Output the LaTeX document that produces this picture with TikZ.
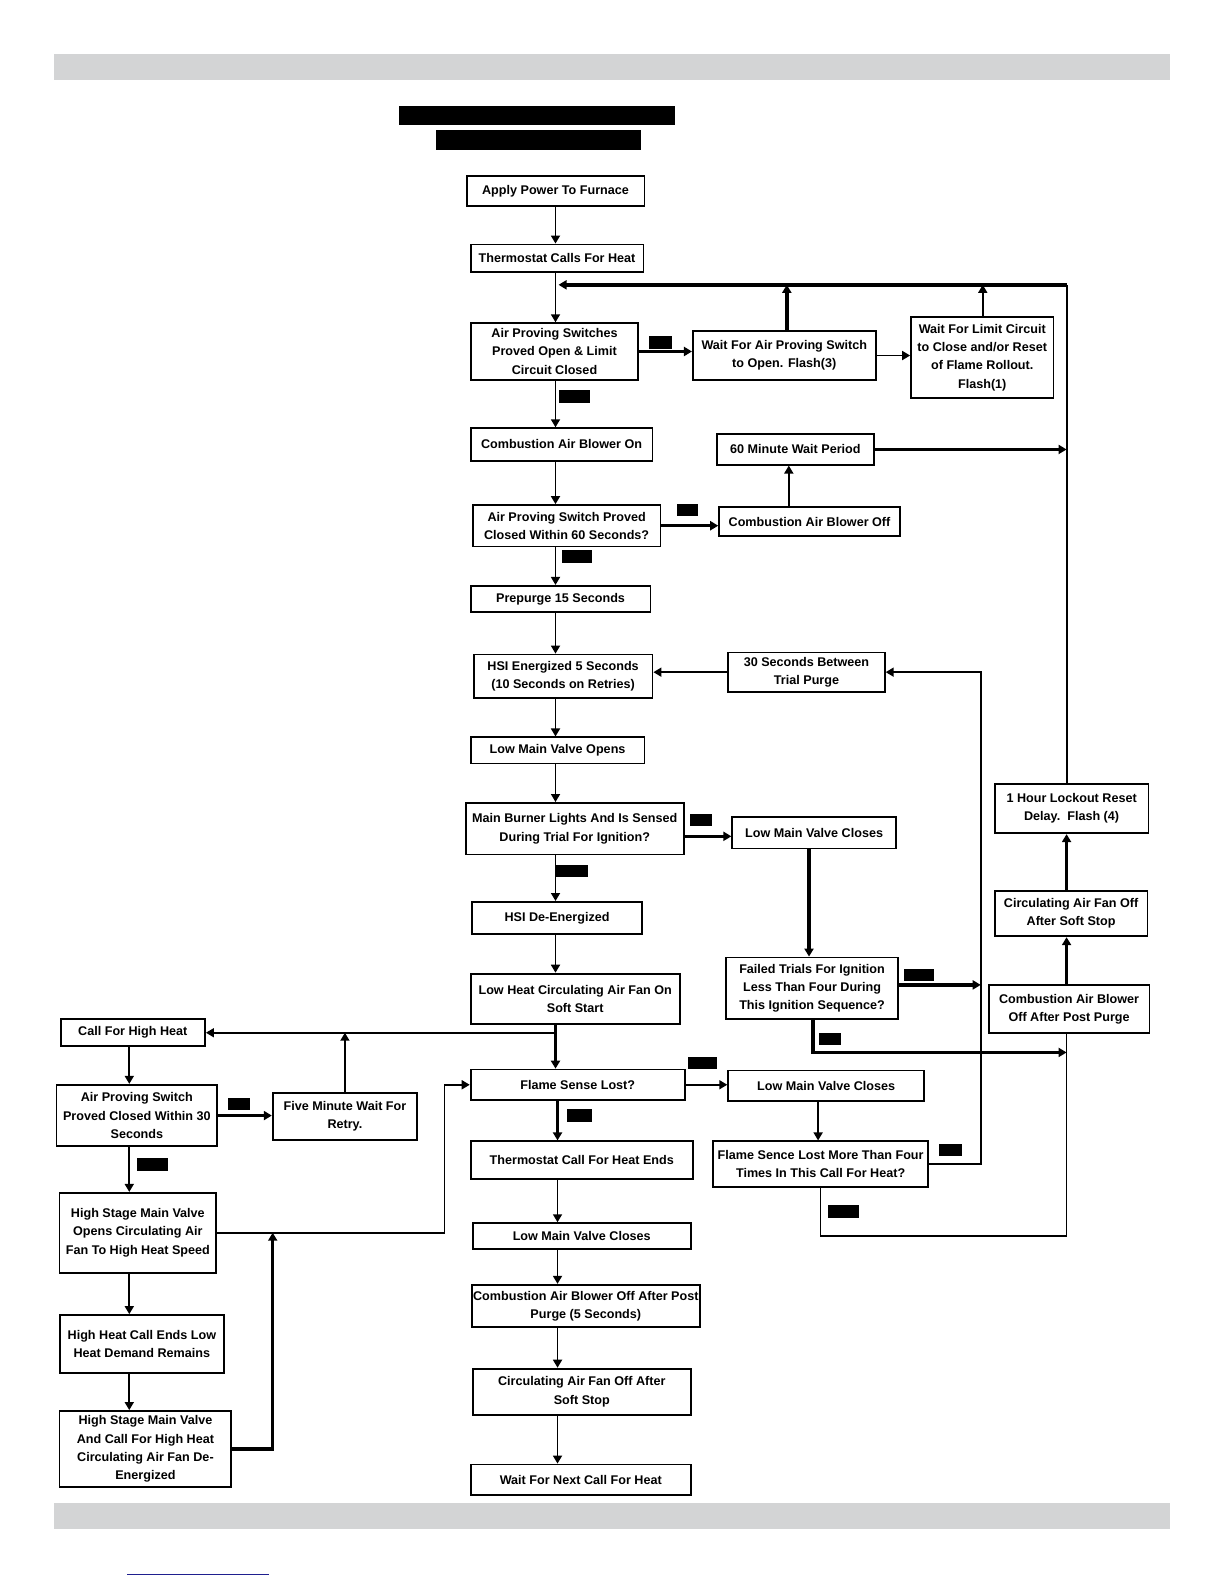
\documentclass[tikz,border=0pt]{standalone}
\usepackage{fontspec}
\setmainfont{Liberation Sans}
\usetikzlibrary{arrows.meta}
\definecolor{bargray}{HTML}{D3D4D5}
\definecolor{navyline}{HTML}{1F1F8F}
\begin{document}
\begin{tikzpicture}[x=0.505pt,y=-0.505pt,
  box/.style={draw, line width=0.9pt, inner xsep=0.5pt, inner ysep=0pt, align=center,
    font=\fontsize{6.3}{9.1}\selectfont\bfseries},
  thn/.style={line width=0.85pt},
  med/.style={line width=1.0pt},
  thk/.style={line width=1.7pt},
  arr/.style={-{Triangle[length=4pt,width=4.5pt]}},
  redact/.style={fill=black}]
\useasboundingbox (0pt,0pt) rectangle (612pt,-792pt);
\fill[white] (0pt,0pt) rectangle (612pt,-792pt);
% page bars
\fill[bargray] (53,53) rectangle (1158,79);
\fill[bargray] (53,1488) rectangle (1158,1514);
\draw[navyline,line width=0.6pt] (126,1559) -- (266,1559);
% title (redacted)
\fill[redact] (395,105) rectangle (668,124);
\fill[redact] (432,129) rectangle (635,149);

% nodes
\node[box,minimum width=88.9pt,minimum height=15.2pt] (b1) at (550,189) {Apply Power To Furnace};
\node[box,minimum width=86.4pt,minimum height=13.6pt] (b2) at (551.5,255.5) {Thermostat Calls For Heat};
\node[box,minimum width=83.8pt,minimum height=28.3pt] (b3) at (549,348) {Air Proving Switches\\Proved Open \& Limit\\Circuit Closed};
\node[box,minimum width=91.4pt,minimum height=24.2pt] (b4) at (776.5,352) {Wait For Air Proving Switch\\to Open. Flash(3)};
\node[box,minimum width=71.2pt,minimum height=40.4pt] (b5) at (972.5,354) {Wait For Limit Circuit\\to Close and/or Reset\\of Flame Rollout.\\Flash(1)};
\node[box,minimum width=90.9pt,minimum height=16.2pt] (b6) at (556,440) {Combustion Air Blower On};
\node[box,minimum width=93.9pt,minimum height=20.7pt] (b7) at (561,520.5) {Air Proving Switch Proved\\Closed Within 60 Seconds?};
\node[box,minimum width=90.4pt,minimum height=14.6pt] (b8) at (801.5,516.5) {Combustion Air Blower Off};
\node[box,minimum width=78.3pt,minimum height=15.2pt] (b9) at (787.5,445) {60 Minute Wait Period};
\node[box,minimum width=89.9pt,minimum height=13.1pt] (b10) at (555,593) {Prepurge 15 Seconds};
\node[box,minimum width=89.4pt,minimum height=21.7pt] (b11) at (557.5,669.5) {HSI Energized 5 Seconds\\(10 Seconds on Retries)};
\node[box,minimum width=78.3pt,minimum height=19.7pt] (b12) at (798.5,665.5) {30 Seconds Between\\Trial Purge};
\node[box,minimum width=86.9pt,minimum height=13.1pt] (b13) at (552,743) {Low Main Valve Opens};
\node[box,minimum width=109.1pt,minimum height=25.8pt] (b14) at (569,820.5) {Main Burner Lights And Is Sensed\\During Trial For Ignition?};
\node[box,minimum width=81.8pt,minimum height=15.7pt] (b15) at (806,824.5) {Low Main Valve Closes};
\node[box,minimum width=85.3pt,minimum height=16.2pt] (b16) at (551.5,909) {HSI De-Energized};
\node[box,minimum width=85.9pt,minimum height=30.8pt] (b17) at (804,978.5) {Failed Trials For Ignition\\Less Than Four During\\This Ignition Sequence?};
\node[box,minimum width=104.5pt,minimum height=25.3pt] (b18) at (569.5,989) {Low Heat Circulating Air Fan On\\Soft Start};
\node[box,minimum width=72.2pt,minimum height=13.6pt] (b19) at (131.5,1022.5) {Call For High Heat};
\node[box,minimum width=107.1pt,minimum height=15.2pt] (b20) at (572,1074) {Flame Sense Lost?};
\node[box,minimum width=80.3pt,minimum height=30.8pt] (b21) at (135.5,1104.5) {Air Proving Switch\\Proved Closed Within 30\\Seconds};
\node[box,minimum width=72.2pt,minimum height=23.7pt] (b22) at (341.5,1105.5) {Five Minute Wait For\\Retry.};
\node[box,minimum width=78.3pt,minimum height=39.9pt] (b23) at (136.5,1220.5) {High Stage Main Valve\\Opens Circulating Air\\Fan To High Heat Speed};
\node[box,minimum width=82.3pt,minimum height=28.8pt] (b24) at (140.5,1330.5) {High Heat Call Ends Low\\Heat Demand Remains};
\node[box,minimum width=85.9pt,minimum height=37.9pt] (b25) at (144,1434.5) {High Stage Main Valve\\And Call For High Heat\\Circulating Air Fan De-\\Energized};
\node[box,minimum width=98.0pt,minimum height=15.2pt] (b26) at (818,1075) {Low Main Valve Closes};
\node[box,minimum width=107.6pt,minimum height=22.7pt] (b27) at (812.5,1152.5) {Flame Sence Lost More Than Four\\Times In This Call For Heat?};
\node[box,minimum width=76.8pt,minimum height=24.7pt] (b28) at (1061,800.5) {1 Hour Lockout Reset\\Delay.\ \ Flash (4)};
\node[box,minimum width=76.3pt,minimum height=22.7pt] (b29) at (1060.5,904.5) {Circulating Air Fan Off\\After Soft Stop};
\node[box,minimum width=80.3pt,minimum height=24.2pt] (b30) at (1058.5,999) {Combustion Air Blower\\Off After Post Purge};
\node[box,minimum width=111.1pt,minimum height=18.7pt] (b31) at (576,1148.5) {Thermostat Call For Heat Ends};
\node[box,minimum width=109.1pt,minimum height=13.1pt] (b32) at (576,1224) {Low Main Valve Closes};
\node[box,minimum width=114.1pt,minimum height=21.2pt] (b33) at (580,1293) {Combustion Air Blower Off After Post\\Purge (5 Seconds)};
\node[box,minimum width=109.1pt,minimum height=23.2pt] (b34) at (576,1378) {Circulating Air Fan Off After\\Soft Stop};
\node[box,minimum width=110.1pt,minimum height=15.2pt] (b35) at (575,1465) {Wait For Next Call For Heat};

% helper coordinates
\coordinate (sp) at (550,0);
\coordinate (sp2) at (552,0);
\coordinate (lx) at (128,0);
\coordinate (rx) at (1056,0);
\coordinate (mx) at (971,0);
\coordinate (jR) at (1056,282);
\coordinate (jL) at (553,282);
\coordinate (j1) at (779,282);
\coordinate (j2) at (973,282);
\coordinate (j3) at (781,0);
\coordinate (j4) at (801,0);
\coordinate (j5) at (805,0);
\coordinate (j6) at (1056,1042);
\coordinate (j7) at (440,0);
\coordinate (j8) at (270,0);
\coordinate (j9) at (810,0);
\coordinate (j10) at (1056,1224);

% main column
\draw[thn,arr] (b1.south -| sp) -- (b2.north -| sp);
\draw[thn,arr] (b2.south -| sp) -- (b3.north -| sp);
\draw[thn,arr] (b3.south -| sp) -- (b6.north -| sp);
\draw[thn,arr] (b6.south -| sp) -- (b7.north -| sp);
\draw[thn,arr] (b7.south -| sp) -- (b10.north -| sp);
\draw[thn,arr] (b10.south -| sp) -- (b11.north -| sp);
\draw[thn,arr] (b11.south -| sp) -- (b13.north -| sp);
\draw[thn,arr] (b13.south -| sp) -- (b14.north -| sp);
\draw[thn,arr] (b14.south -| sp) -- (b16.north -| sp);
\draw[thn,arr] (b16.south -| sp) -- (b18.north -| sp);
\draw[thk,arr] (b18.south -| sp) -- (b20.north -| sp);
\draw[thk,arr] (b20.south -| sp2) -- (b31.north -| sp2);
\draw[thn,arr] (b31.south -| sp2) -- (b32.north -| sp2);
\draw[thn,arr] (b32.south -| sp2) -- (b33.north -| sp2);
\draw[thn,arr] (b33.south -| sp2) -- (b34.north -| sp2);
\draw[thn,arr] (b34.south -| sp2) -- (b35.north -| sp2);

% top loop
\draw[med] (b28.north -| rx) -- (jR);
\draw[thk,arr] (jR) -- (jL);
\draw[thk,arr] (b3.east) -- (b3.east -| b4.west);
\draw[thk,arr] (b4.north -| j1) -- (j1);
\draw[thn,arr] (b4.east) -- (b4.east -| b5.west);
\draw[thn,arr] (b5.north -| j2) -- (j2);

% blower branch
\draw[thk,arr] (b7.east) -- (b7.east -| b8.west);
\draw[thn,arr] (b8.north -| j3) -- (b9.south -| j3);
\draw[thk,arr] (b9.east) -- (b9.east -| rx);

% retry loop
\draw[thn,arr] (b12.west) -- (b12.west -| b11.east);
\draw[thn,arr] (b27.east) -- (b27.east -| mx) -- (mx |- b12.east) -- (b12.east);
\draw[thk,arr] ([yshift=-3.8pt]b14.east) -- ([yshift=-3.8pt]b14.east -| b15.west);
\draw[thk,arr] (b15.south -| j4) -- (b17.north -| j4);
\draw[thk,arr] ([yshift=1.7pt]b17.east) -- ([yshift=1.7pt]b17.east -| mx);
\draw[thk,arr] (b17.south -| j5) |- (j6);

% lockout column
\draw[thk,arr] (b30.north -| rx) -- (b29.south -| rx);
\draw[thk,arr] (b29.north -| rx) -- (b28.south -| rx);
\draw[thn] (b27.south) |- (j10) -- (b30.south -| rx);

% flame sense lost branch
\draw[thn,arr] (b20.east) -- (b20.east -| b26.west);
\draw[thn,arr] (b26.south -| j9) -- (b27.north -| j9);

% high heat branch
\draw[thn,arr] (b19.east -| sp) -- (b19.east);
\draw[thn,arr] (b22.north) -- (b22.north |- b19.east);
\draw[thn,arr] (b19.south -| lx) -- (b21.north -| lx);
\draw[thk,arr] (b21.east) -- (b21.east -| b22.west);
\draw[thn,arr] (b21.south -| lx) -- (b23.north -| lx);
\draw[thn,arr] (b23.east) -- (b23.east -| j7) |- (b20.west);
\draw[thn,arr] (b23.south -| lx) -- (b24.north -| lx);
\draw[thn,arr] (b24.south -| lx) -- (b25.north -| lx);
\draw[thk,arr] (b25.east) -| (b23.east -| j8);

% redacted yes/no labels
\fill[redact] (643,333) rectangle (665,346);
\fill[redact] (553,386) rectangle (584,399);
\fill[redact] (670,499) rectangle (691,511);
\fill[redact] (556,545) rectangle (586,557);
\fill[redact] (683,806) rectangle (705,818);
\fill[redact] (550,856) rectangle (582,868);
\fill[redact] (895,959) rectangle (925,971);
\fill[redact] (811,1023) rectangle (833,1035);
\fill[redact] (681,1047) rectangle (710,1058);
\fill[redact] (561,1098) rectangle (586,1111);
\fill[redact] (226,1087) rectangle (248,1099);
\fill[redact] (136,1147) rectangle (166,1159);
\fill[redact] (930,1133) rectangle (952,1145);
\fill[redact] (820,1193) rectangle (850,1206);
\end{tikzpicture}
\end{document}
